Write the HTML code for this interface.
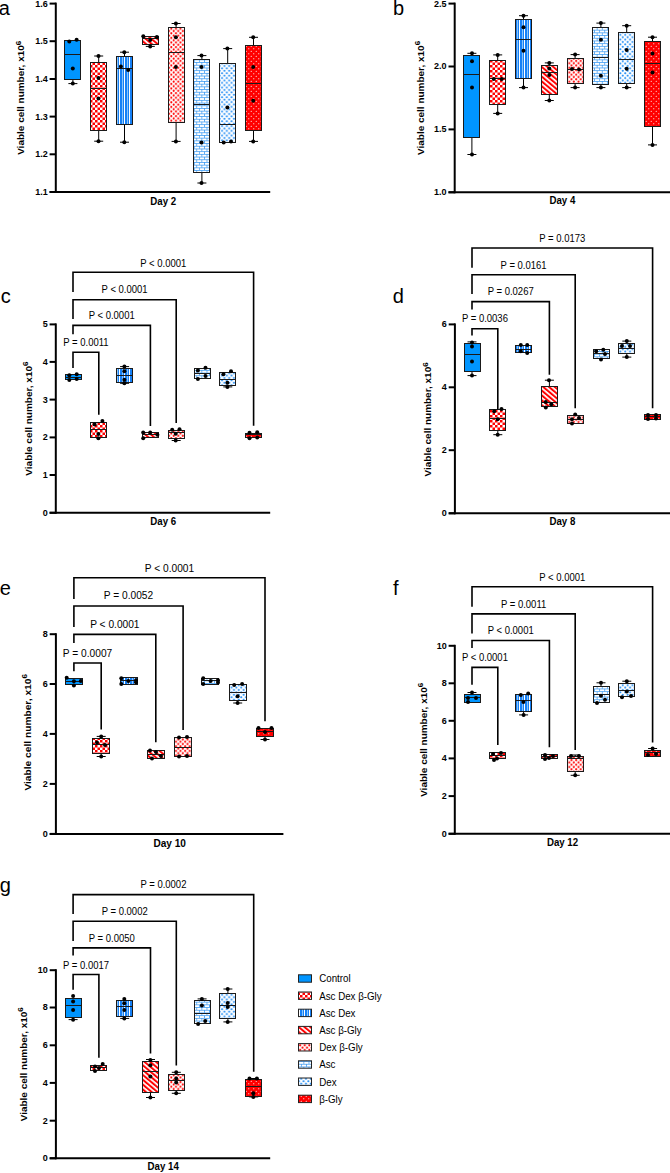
<!DOCTYPE html>
<html><head><meta charset="utf-8"><style>
html,body{margin:0;padding:0;background:#fff;}
svg{display:block;}
text{font-family:"Liberation Sans", sans-serif;fill:#000;}
</style></head><body>
<svg width="670" height="1173" viewBox="0 0 670 1173">
<rect width="670" height="1173" fill="#fff"/>

<defs>
<pattern id="p1" patternUnits="userSpaceOnUse" width="5" height="5">
  <rect width="5" height="5" fill="#fff"/>
  <rect x="0" y="0" width="2.5" height="2.5" fill="#ff0000"/>
  <rect x="2.5" y="2.5" width="2.5" height="2.5" fill="#ff0000"/>
</pattern>
<pattern id="p2" patternUnits="userSpaceOnUse" x="4" y="0" width="5" height="5">
  <rect width="5" height="5" fill="#1580f6"/>
  <rect x="0" y="0" width="1" height="5" fill="#ffffff"/>
  <rect x="3" y="0" width="1" height="5" fill="#8cc4fa"/>
</pattern>
<pattern id="p3" patternUnits="userSpaceOnUse" width="3.7" height="3.7" patternTransform="rotate(-50)">
  <rect width="3.7" height="3.7" fill="#fff"/>
  <rect x="0" y="0" width="2.0" height="3.7" fill="#ff0000"/>
</pattern>
<pattern id="p4" patternUnits="userSpaceOnUse" width="4.6" height="4.6">
  <rect width="4.6" height="4.6" fill="#fff"/>
  <circle cx="1.15" cy="1.15" r="1.05" fill="#ff0000"/>
  <circle cx="3.45" cy="3.45" r="1.05" fill="#ff0000"/>
</pattern>
<pattern id="p5" patternUnits="userSpaceOnUse" width="5.1" height="5.4">
  <rect width="5.1" height="5.4" fill="#fff"/>
  <rect x="0" y="0" width="5.1" height="0.75" fill="#3c9af2"/>
  <rect x="0" y="2.7" width="5.1" height="0.75" fill="#3c9af2"/>
  <rect x="0" y="0" width="0.75" height="2.7" fill="#3c9af2"/>
  <rect x="2.55" y="2.7" width="0.75" height="2.7" fill="#3c9af2"/>
</pattern>
<pattern id="p6" patternUnits="userSpaceOnUse" width="4.8" height="4.8">
  <rect width="4.8" height="4.8" fill="#fff"/>
  <circle cx="1.2" cy="1.2" r="1.05" fill="#1a8af5"/>
  <circle cx="3.6" cy="3.6" r="1.05" fill="#1a8af5"/>
</pattern>
<pattern id="p7" patternUnits="userSpaceOnUse" width="5" height="5">
  <rect width="5" height="5" fill="#ff0000"/>
  <circle cx="1.25" cy="1.25" r="0.62" fill="#fff"/>
  <circle cx="3.75" cy="3.75" r="0.62" fill="#fff"/>
</pattern>
</defs>

<line x1="55.8" y1="2.6" x2="55.8" y2="193.0" stroke="#000" stroke-width="2.0"/>
<line x1="49.599999999999994" y1="192.0" x2="270.2" y2="192.0" stroke="#000" stroke-width="2.0"/>
<line x1="49.599999999999994" y1="3.6" x2="55.8" y2="3.6" stroke="#000" stroke-width="2.0"/>
<text x="47.70" y="6.50" font-size="9.0" font-weight="bold" text-anchor="end" >1.6</text>
<line x1="49.599999999999994" y1="41.2" x2="55.8" y2="41.2" stroke="#000" stroke-width="2.0"/>
<text x="47.70" y="44.10" font-size="9.0" font-weight="bold" text-anchor="end" >1.5</text>
<line x1="49.599999999999994" y1="79.0" x2="55.8" y2="79.0" stroke="#000" stroke-width="2.0"/>
<text x="47.70" y="81.90" font-size="9.0" font-weight="bold" text-anchor="end" >1.4</text>
<line x1="49.599999999999994" y1="116.6" x2="55.8" y2="116.6" stroke="#000" stroke-width="2.0"/>
<text x="47.70" y="119.50" font-size="9.0" font-weight="bold" text-anchor="end" >1.3</text>
<line x1="49.599999999999994" y1="154.3" x2="55.8" y2="154.3" stroke="#000" stroke-width="2.0"/>
<text x="47.70" y="157.20" font-size="9.0" font-weight="bold" text-anchor="end" >1.2</text>
<line x1="49.599999999999994" y1="192.0" x2="55.8" y2="192.0" stroke="#000" stroke-width="2.0"/>
<text x="47.70" y="194.90" font-size="9.0" font-weight="bold" text-anchor="end" >1.1</text>
<text transform="translate(24.4,97.8) rotate(-90) scale(1.11,1)" font-size="9" font-weight="bold" text-anchor="middle">Viable cell number, x10<tspan font-size="7.2" dy="-3.7">6</tspan></text>
<text transform="translate(163.20,204.60) scale(1,1.1)" font-size="9.7" font-weight="bold" text-anchor="middle" >Day 2</text>
<text x="-1.15" y="14.80" font-size="20" font-weight="normal" text-anchor="start" >a</text>
<line x1="72.9" y1="79.4" x2="72.9" y2="83.6" stroke="#000" stroke-width="1.0"/>
<line x1="68.4" y1="83.6" x2="77.4" y2="83.6" stroke="#000" stroke-width="1.0"/>
<rect x="64.5" y="40.5" width="16.0" height="39.0" fill="#0095ff" stroke="#1a1a1a" stroke-width="1"/>
<line x1="64.5" y1="54.5" x2="80.5" y2="54.5" stroke="#1a1a1a" stroke-width="1.0"/>
<circle cx="69.3" cy="41.4" r="2.0" fill="#000"/>
<circle cx="76.6" cy="39.7" r="2.0" fill="#000"/>
<circle cx="72.8" cy="68.5" r="2.0" fill="#000"/>
<circle cx="72.8" cy="83.6" r="2.0" fill="#000"/>
<line x1="98.7" y1="56" x2="98.7" y2="62" stroke="#000" stroke-width="1.0"/>
<line x1="94.2" y1="56" x2="103.2" y2="56" stroke="#000" stroke-width="1.0"/>
<line x1="98.7" y1="130.3" x2="98.7" y2="141.2" stroke="#000" stroke-width="1.0"/>
<line x1="94.2" y1="141.2" x2="103.2" y2="141.2" stroke="#000" stroke-width="1.0"/>
<rect x="90.5" y="62.5" width="16.0" height="68.0" fill="url(#p1)" stroke="#1a1a1a" stroke-width="1"/>
<line x1="90.5" y1="88.5" x2="106.5" y2="88.5" stroke="#1a1a1a" stroke-width="1.0"/>
<circle cx="98.5" cy="56" r="2.0" fill="#000"/>
<circle cx="98.5" cy="77.9" r="2.0" fill="#000"/>
<circle cx="98.5" cy="98.5" r="2.0" fill="#000"/>
<circle cx="98.5" cy="141.2" r="2.0" fill="#000"/>
<line x1="124.5" y1="52.2" x2="124.5" y2="56.2" stroke="#000" stroke-width="1.0"/>
<line x1="120.0" y1="52.2" x2="129.0" y2="52.2" stroke="#000" stroke-width="1.0"/>
<line x1="124.5" y1="124" x2="124.5" y2="142.2" stroke="#000" stroke-width="1.0"/>
<line x1="120.0" y1="142.2" x2="129.0" y2="142.2" stroke="#000" stroke-width="1.0"/>
<rect x="116.5" y="56.5" width="16.0" height="68.0" fill="url(#p2)" stroke="#1a1a1a" stroke-width="1"/>
<line x1="116.5" y1="68.5" x2="132.5" y2="68.5" stroke="#1a1a1a" stroke-width="1.0"/>
<circle cx="124.3" cy="52.2" r="2.0" fill="#000"/>
<circle cx="120.9" cy="66.4" r="2.0" fill="#000"/>
<circle cx="128.2" cy="70" r="2.0" fill="#000"/>
<circle cx="124.3" cy="142.2" r="2.0" fill="#000"/>
<line x1="150.3" y1="44.0" x2="150.3" y2="46.4" stroke="#000" stroke-width="1.0"/>
<line x1="145.8" y1="46.4" x2="154.8" y2="46.4" stroke="#000" stroke-width="1.0"/>
<rect x="142.5" y="36.5" width="16.0" height="8.0" fill="url(#p3)" stroke="#1a1a1a" stroke-width="1"/>
<line x1="142.5" y1="38.5" x2="158.5" y2="38.5" stroke="#1a1a1a" stroke-width="1.0"/>
<circle cx="143.3" cy="36.3" r="2.0" fill="#000"/>
<circle cx="156.9" cy="37" r="2.0" fill="#000"/>
<circle cx="150.2" cy="40.1" r="2.0" fill="#000"/>
<circle cx="150.2" cy="46.4" r="2.0" fill="#000"/>
<line x1="176.10000000000002" y1="23.5" x2="176.10000000000002" y2="27.4" stroke="#000" stroke-width="1.0"/>
<line x1="171.60000000000002" y1="23.5" x2="180.60000000000002" y2="23.5" stroke="#000" stroke-width="1.0"/>
<line x1="176.10000000000002" y1="122.1" x2="176.10000000000002" y2="141.4" stroke="#000" stroke-width="1.0"/>
<line x1="171.60000000000002" y1="141.4" x2="180.60000000000002" y2="141.4" stroke="#000" stroke-width="1.0"/>
<rect x="168.5" y="27.5" width="16.0" height="95.0" fill="url(#p4)" stroke="#1a1a1a" stroke-width="1"/>
<line x1="168.5" y1="52.5" x2="184.5" y2="52.5" stroke="#1a1a1a" stroke-width="1.0"/>
<circle cx="175.9" cy="23.5" r="2.0" fill="#000"/>
<circle cx="175.9" cy="37.3" r="2.0" fill="#000"/>
<circle cx="175.9" cy="66.9" r="2.0" fill="#000"/>
<circle cx="175.9" cy="141.4" r="2.0" fill="#000"/>
<line x1="201.9" y1="55.6" x2="201.9" y2="59.3" stroke="#000" stroke-width="1.0"/>
<line x1="197.4" y1="55.6" x2="206.4" y2="55.6" stroke="#000" stroke-width="1.0"/>
<line x1="201.9" y1="172.8" x2="201.9" y2="183" stroke="#000" stroke-width="1.0"/>
<line x1="197.4" y1="183" x2="206.4" y2="183" stroke="#000" stroke-width="1.0"/>
<rect x="193.5" y="59.5" width="16.0" height="113.0" fill="url(#p5)" stroke="#1a1a1a" stroke-width="1"/>
<line x1="193.5" y1="104.5" x2="209.5" y2="104.5" stroke="#1a1a1a" stroke-width="1.0"/>
<circle cx="201.5" cy="55.6" r="2.0" fill="#000"/>
<circle cx="201.5" cy="66.9" r="2.0" fill="#000"/>
<circle cx="201.5" cy="142.5" r="2.0" fill="#000"/>
<circle cx="201.5" cy="183" r="2.0" fill="#000"/>
<line x1="227.70000000000002" y1="48.6" x2="227.70000000000002" y2="63.5" stroke="#000" stroke-width="1.0"/>
<line x1="223.20000000000002" y1="48.6" x2="232.20000000000002" y2="48.6" stroke="#000" stroke-width="1.0"/>
<rect x="219.5" y="63.5" width="16.0" height="79.0" fill="url(#p6)" stroke="#1a1a1a" stroke-width="1"/>
<line x1="219.5" y1="124.5" x2="235.5" y2="124.5" stroke="#1a1a1a" stroke-width="1.0"/>
<circle cx="227.4" cy="48.6" r="2.0" fill="#000"/>
<circle cx="227.4" cy="107.5" r="2.0" fill="#000"/>
<circle cx="223.7" cy="142.5" r="2.0" fill="#000"/>
<circle cx="231" cy="141.4" r="2.0" fill="#000"/>
<line x1="253.5" y1="37.3" x2="253.5" y2="45.2" stroke="#000" stroke-width="1.0"/>
<line x1="249.0" y1="37.3" x2="258.0" y2="37.3" stroke="#000" stroke-width="1.0"/>
<line x1="253.5" y1="131" x2="253.5" y2="141.4" stroke="#000" stroke-width="1.0"/>
<line x1="249.0" y1="141.4" x2="258.0" y2="141.4" stroke="#000" stroke-width="1.0"/>
<rect x="245.5" y="45.5" width="16.0" height="85.0" fill="url(#p7)" stroke="#1a1a1a" stroke-width="1"/>
<line x1="245.5" y1="83.5" x2="261.5" y2="83.5" stroke="#1a1a1a" stroke-width="1.0"/>
<circle cx="253.2" cy="37.3" r="2.0" fill="#000"/>
<circle cx="253.2" cy="66.9" r="2.0" fill="#000"/>
<circle cx="253.2" cy="100.7" r="2.0" fill="#000"/>
<circle cx="253.2" cy="141.4" r="2.0" fill="#000"/>
<line x1="454.7" y1="2.6" x2="454.7" y2="193.3" stroke="#000" stroke-width="2.0"/>
<line x1="448.5" y1="192.3" x2="670" y2="192.3" stroke="#000" stroke-width="2.0"/>
<line x1="448.5" y1="3.6" x2="454.7" y2="3.6" stroke="#000" stroke-width="2.0"/>
<text x="446.60" y="6.50" font-size="9.0" font-weight="bold" text-anchor="end" >2.5</text>
<line x1="448.5" y1="66.5" x2="454.7" y2="66.5" stroke="#000" stroke-width="2.0"/>
<text x="446.60" y="69.40" font-size="9.0" font-weight="bold" text-anchor="end" >2.0</text>
<line x1="448.5" y1="129.4" x2="454.7" y2="129.4" stroke="#000" stroke-width="2.0"/>
<text x="446.60" y="132.30" font-size="9.0" font-weight="bold" text-anchor="end" >1.5</text>
<line x1="448.5" y1="192.3" x2="454.7" y2="192.3" stroke="#000" stroke-width="2.0"/>
<text x="446.60" y="195.20" font-size="9.0" font-weight="bold" text-anchor="end" >1.0</text>
<text transform="translate(423.5,97.95) rotate(-90) scale(1.11,1)" font-size="9" font-weight="bold" text-anchor="middle">Viable cell number, x10<tspan font-size="7.2" dy="-3.7">6</tspan></text>
<text transform="translate(562.40,204.40) scale(1,1.1)" font-size="9.7" font-weight="bold" text-anchor="middle" >Day 4</text>
<text x="393.00" y="14.80" font-size="20" font-weight="normal" text-anchor="start" >b</text>
<line x1="471.9" y1="53.3" x2="471.9" y2="55.8" stroke="#000" stroke-width="1.0"/>
<line x1="467.4" y1="53.3" x2="476.4" y2="53.3" stroke="#000" stroke-width="1.0"/>
<line x1="471.9" y1="137.4" x2="471.9" y2="154.5" stroke="#000" stroke-width="1.0"/>
<line x1="467.4" y1="154.5" x2="476.4" y2="154.5" stroke="#000" stroke-width="1.0"/>
<rect x="463.5" y="55.5" width="16.0" height="82.0" fill="#0095ff" stroke="#1a1a1a" stroke-width="1"/>
<line x1="463.5" y1="74.5" x2="479.5" y2="74.5" stroke="#1a1a1a" stroke-width="1.0"/>
<circle cx="472" cy="53.3" r="2.0" fill="#000"/>
<circle cx="472" cy="61.3" r="2.0" fill="#000"/>
<circle cx="472" cy="87.6" r="2.0" fill="#000"/>
<circle cx="472" cy="154.5" r="2.0" fill="#000"/>
<line x1="497.7" y1="54.9" x2="497.7" y2="61" stroke="#000" stroke-width="1.0"/>
<line x1="493.2" y1="54.9" x2="502.2" y2="54.9" stroke="#000" stroke-width="1.0"/>
<line x1="497.7" y1="104.5" x2="497.7" y2="113.4" stroke="#000" stroke-width="1.0"/>
<line x1="493.2" y1="113.4" x2="502.2" y2="113.4" stroke="#000" stroke-width="1.0"/>
<rect x="489.5" y="60.5" width="16.0" height="44.0" fill="url(#p1)" stroke="#1a1a1a" stroke-width="1"/>
<line x1="489.5" y1="78.5" x2="505.5" y2="78.5" stroke="#1a1a1a" stroke-width="1.0"/>
<circle cx="497.7" cy="54.9" r="2.0" fill="#000"/>
<circle cx="493.8" cy="79" r="2.0" fill="#000"/>
<circle cx="501.7" cy="79" r="2.0" fill="#000"/>
<circle cx="497.7" cy="113.4" r="2.0" fill="#000"/>
<line x1="523.5" y1="15.7" x2="523.5" y2="19.3" stroke="#000" stroke-width="1.0"/>
<line x1="519.0" y1="15.7" x2="528.0" y2="15.7" stroke="#000" stroke-width="1.0"/>
<line x1="523.5" y1="78" x2="523.5" y2="87.6" stroke="#000" stroke-width="1.0"/>
<line x1="519.0" y1="87.6" x2="528.0" y2="87.6" stroke="#000" stroke-width="1.0"/>
<rect x="515.5" y="19.5" width="16.0" height="59.0" fill="url(#p2)" stroke="#1a1a1a" stroke-width="1"/>
<line x1="515.5" y1="39.5" x2="531.5" y2="39.5" stroke="#1a1a1a" stroke-width="1.0"/>
<circle cx="523.5" cy="15.7" r="2.0" fill="#000"/>
<circle cx="523.5" cy="27.3" r="2.0" fill="#000"/>
<circle cx="523.5" cy="50.7" r="2.0" fill="#000"/>
<circle cx="523.5" cy="87.6" r="2.0" fill="#000"/>
<line x1="549.3" y1="62.9" x2="549.3" y2="65.1" stroke="#000" stroke-width="1.0"/>
<line x1="544.8" y1="62.9" x2="553.8" y2="62.9" stroke="#000" stroke-width="1.0"/>
<line x1="549.3" y1="94.1" x2="549.3" y2="100.5" stroke="#000" stroke-width="1.0"/>
<line x1="544.8" y1="100.5" x2="553.8" y2="100.5" stroke="#000" stroke-width="1.0"/>
<rect x="541.5" y="65.5" width="16.0" height="29.0" fill="url(#p3)" stroke="#1a1a1a" stroke-width="1"/>
<line x1="541.5" y1="72.5" x2="557.5" y2="72.5" stroke="#1a1a1a" stroke-width="1.0"/>
<circle cx="549.3" cy="62.9" r="2.0" fill="#000"/>
<circle cx="549.3" cy="68.4" r="2.0" fill="#000"/>
<circle cx="549.3" cy="75.1" r="2.0" fill="#000"/>
<circle cx="549.3" cy="100.5" r="2.0" fill="#000"/>
<line x1="575.1" y1="54.6" x2="575.1" y2="58.4" stroke="#000" stroke-width="1.0"/>
<line x1="570.6" y1="54.6" x2="579.6" y2="54.6" stroke="#000" stroke-width="1.0"/>
<line x1="575.1" y1="83.4" x2="575.1" y2="87.6" stroke="#000" stroke-width="1.0"/>
<line x1="570.6" y1="87.6" x2="579.6" y2="87.6" stroke="#000" stroke-width="1.0"/>
<rect x="567.5" y="58.5" width="16.0" height="25.0" fill="url(#p4)" stroke="#1a1a1a" stroke-width="1"/>
<line x1="567.5" y1="69.5" x2="583.5" y2="69.5" stroke="#1a1a1a" stroke-width="1.0"/>
<circle cx="575.1" cy="54.6" r="2.0" fill="#000"/>
<circle cx="572" cy="69" r="2.0" fill="#000"/>
<circle cx="579" cy="69.5" r="2.0" fill="#000"/>
<circle cx="575.1" cy="87.6" r="2.0" fill="#000"/>
<line x1="600.9" y1="23.1" x2="600.9" y2="27.6" stroke="#000" stroke-width="1.0"/>
<line x1="596.4" y1="23.1" x2="605.4" y2="23.1" stroke="#000" stroke-width="1.0"/>
<line x1="600.9" y1="84.4" x2="600.9" y2="87.6" stroke="#000" stroke-width="1.0"/>
<line x1="596.4" y1="87.6" x2="605.4" y2="87.6" stroke="#000" stroke-width="1.0"/>
<rect x="592.5" y="27.5" width="16.0" height="57.0" fill="url(#p5)" stroke="#1a1a1a" stroke-width="1"/>
<line x1="592.5" y1="57.5" x2="608.5" y2="57.5" stroke="#1a1a1a" stroke-width="1.0"/>
<circle cx="600.9" cy="23.1" r="2.0" fill="#000"/>
<circle cx="600.9" cy="39.8" r="2.0" fill="#000"/>
<circle cx="600.9" cy="75.7" r="2.0" fill="#000"/>
<circle cx="600.9" cy="87.6" r="2.0" fill="#000"/>
<line x1="626.7" y1="25.7" x2="626.7" y2="32.1" stroke="#000" stroke-width="1.0"/>
<line x1="622.2" y1="25.7" x2="631.2" y2="25.7" stroke="#000" stroke-width="1.0"/>
<line x1="626.7" y1="83.4" x2="626.7" y2="87.6" stroke="#000" stroke-width="1.0"/>
<line x1="622.2" y1="87.6" x2="631.2" y2="87.6" stroke="#000" stroke-width="1.0"/>
<rect x="618.5" y="32.5" width="16.0" height="51.0" fill="url(#p6)" stroke="#1a1a1a" stroke-width="1"/>
<line x1="618.5" y1="59.5" x2="634.5" y2="59.5" stroke="#1a1a1a" stroke-width="1.0"/>
<circle cx="626.7" cy="25.7" r="2.0" fill="#000"/>
<circle cx="626.7" cy="50" r="2.0" fill="#000"/>
<circle cx="626.7" cy="68.7" r="2.0" fill="#000"/>
<circle cx="626.7" cy="87.6" r="2.0" fill="#000"/>
<line x1="652.5" y1="37.2" x2="652.5" y2="41.4" stroke="#000" stroke-width="1.0"/>
<line x1="648.0" y1="37.2" x2="657.0" y2="37.2" stroke="#000" stroke-width="1.0"/>
<line x1="652.5" y1="126.3" x2="652.5" y2="144.9" stroke="#000" stroke-width="1.0"/>
<line x1="648.0" y1="144.9" x2="657.0" y2="144.9" stroke="#000" stroke-width="1.0"/>
<rect x="644.5" y="41.5" width="16.0" height="85.0" fill="url(#p7)" stroke="#1a1a1a" stroke-width="1"/>
<line x1="644.5" y1="63.5" x2="660.5" y2="63.5" stroke="#1a1a1a" stroke-width="1.0"/>
<circle cx="652.5" cy="37.2" r="2.0" fill="#000"/>
<circle cx="652.5" cy="53.6" r="2.0" fill="#000"/>
<circle cx="652.5" cy="72.5" r="2.0" fill="#000"/>
<circle cx="652.5" cy="144.9" r="2.0" fill="#000"/>
<line x1="55.8" y1="323.4" x2="55.8" y2="513.8" stroke="#000" stroke-width="2.0"/>
<line x1="49.599999999999994" y1="512.8" x2="270.2" y2="512.8" stroke="#000" stroke-width="2.0"/>
<line x1="49.599999999999994" y1="324.4" x2="55.8" y2="324.4" stroke="#000" stroke-width="2.0"/>
<text x="47.70" y="327.30" font-size="9.0" font-weight="bold" text-anchor="end" >5</text>
<line x1="49.599999999999994" y1="361.9" x2="55.8" y2="361.9" stroke="#000" stroke-width="2.0"/>
<text x="47.70" y="364.80" font-size="9.0" font-weight="bold" text-anchor="end" >4</text>
<line x1="49.599999999999994" y1="399.6" x2="55.8" y2="399.6" stroke="#000" stroke-width="2.0"/>
<text x="47.70" y="402.50" font-size="9.0" font-weight="bold" text-anchor="end" >3</text>
<line x1="49.599999999999994" y1="437.4" x2="55.8" y2="437.4" stroke="#000" stroke-width="2.0"/>
<text x="47.70" y="440.30" font-size="9.0" font-weight="bold" text-anchor="end" >2</text>
<line x1="49.599999999999994" y1="475.0" x2="55.8" y2="475.0" stroke="#000" stroke-width="2.0"/>
<text x="47.70" y="477.90" font-size="9.0" font-weight="bold" text-anchor="end" >1</text>
<line x1="49.599999999999994" y1="512.8" x2="55.8" y2="512.8" stroke="#000" stroke-width="2.0"/>
<text x="47.70" y="515.70" font-size="9.0" font-weight="bold" text-anchor="end" >0</text>
<text transform="translate(32.1,418.59999999999997) rotate(-90) scale(1.11,1)" font-size="9" font-weight="bold" text-anchor="middle">Viable cell number, x10<tspan font-size="7.2" dy="-3.7">6</tspan></text>
<text transform="translate(163.30,524.60) scale(1,1.1)" font-size="9.7" font-weight="bold" text-anchor="middle" >Day 6</text>
<text x="0.70" y="302.90" font-size="20" font-weight="normal" text-anchor="start" >c</text>
<rect x="65.5" y="374.5" width="16.0" height="5.0" fill="#0095ff" stroke="#1a1a1a" stroke-width="1"/>
<line x1="65.5" y1="377.5" x2="81.5" y2="377.5" stroke="#1a1a1a" stroke-width="1.0"/>
<circle cx="69.3" cy="375.3" r="2.0" fill="#000"/>
<circle cx="69.3" cy="380" r="2.0" fill="#000"/>
<circle cx="76.7" cy="374.3" r="2.0" fill="#000"/>
<circle cx="76.7" cy="378.9" r="2.0" fill="#000"/>
<rect x="90.5" y="422.5" width="16.0" height="15.0" fill="url(#p1)" stroke="#1a1a1a" stroke-width="1"/>
<line x1="90.5" y1="429.5" x2="106.5" y2="429.5" stroke="#1a1a1a" stroke-width="1.0"/>
<circle cx="94.6" cy="424.5" r="2.0" fill="#000"/>
<circle cx="102.4" cy="420.9" r="2.0" fill="#000"/>
<circle cx="98.4" cy="434" r="2.0" fill="#000"/>
<circle cx="98.4" cy="438.2" r="2.0" fill="#000"/>
<line x1="124.6" y1="366.6" x2="124.6" y2="368.1" stroke="#000" stroke-width="1.0"/>
<line x1="120.1" y1="366.6" x2="129.1" y2="366.6" stroke="#000" stroke-width="1.0"/>
<line x1="124.6" y1="382.4" x2="124.6" y2="383.3" stroke="#000" stroke-width="1.0"/>
<line x1="120.1" y1="383.3" x2="129.1" y2="383.3" stroke="#000" stroke-width="1.0"/>
<rect x="116.5" y="368.5" width="16.0" height="14.0" fill="url(#p2)" stroke="#1a1a1a" stroke-width="1"/>
<line x1="116.5" y1="375.5" x2="132.5" y2="375.5" stroke="#1a1a1a" stroke-width="1.0"/>
<circle cx="124.4" cy="366.6" r="2.0" fill="#000"/>
<circle cx="124.4" cy="371.3" r="2.0" fill="#000"/>
<circle cx="124.4" cy="379.7" r="2.0" fill="#000"/>
<circle cx="124.4" cy="383.3" r="2.0" fill="#000"/>
<rect x="142.5" y="432.5" width="16.0" height="5.0" fill="url(#p3)" stroke="#1a1a1a" stroke-width="1"/>
<line x1="142.5" y1="434.5" x2="158.5" y2="434.5" stroke="#1a1a1a" stroke-width="1.0"/>
<circle cx="143.2" cy="432.5" r="2.0" fill="#000"/>
<circle cx="143.2" cy="438.3" r="2.0" fill="#000"/>
<circle cx="150.2" cy="432.5" r="2.0" fill="#000"/>
<circle cx="157.4" cy="434.7" r="2.0" fill="#000"/>
<line x1="176.2" y1="438.7" x2="176.2" y2="440.5" stroke="#000" stroke-width="1.0"/>
<line x1="171.7" y1="440.5" x2="180.7" y2="440.5" stroke="#000" stroke-width="1.0"/>
<rect x="168.5" y="430.5" width="16.0" height="8.0" fill="url(#p4)" stroke="#1a1a1a" stroke-width="1"/>
<line x1="168.5" y1="432.5" x2="184.5" y2="432.5" stroke="#1a1a1a" stroke-width="1.0"/>
<circle cx="172.2" cy="429.8" r="2.0" fill="#000"/>
<circle cx="179.5" cy="429.3" r="2.0" fill="#000"/>
<circle cx="175.7" cy="433.8" r="2.0" fill="#000"/>
<circle cx="175.7" cy="440.5" r="2.0" fill="#000"/>
<rect x="194.5" y="368.5" width="16.0" height="10.0" fill="url(#p5)" stroke="#1a1a1a" stroke-width="1"/>
<line x1="194.5" y1="373.5" x2="210.5" y2="373.5" stroke="#1a1a1a" stroke-width="1.0"/>
<circle cx="197.9" cy="370.5" r="2.0" fill="#000"/>
<circle cx="205.5" cy="367.8" r="2.0" fill="#000"/>
<circle cx="205.5" cy="376.1" r="2.0" fill="#000"/>
<circle cx="197.9" cy="379.1" r="2.0" fill="#000"/>
<line x1="227.8" y1="385.1" x2="227.8" y2="386.9" stroke="#000" stroke-width="1.0"/>
<line x1="223.3" y1="386.9" x2="232.3" y2="386.9" stroke="#000" stroke-width="1.0"/>
<rect x="219.5" y="372.5" width="16.0" height="13.0" fill="url(#p6)" stroke="#1a1a1a" stroke-width="1"/>
<line x1="219.5" y1="379.5" x2="235.5" y2="379.5" stroke="#1a1a1a" stroke-width="1.0"/>
<circle cx="223.4" cy="374.3" r="2.0" fill="#000"/>
<circle cx="231" cy="371.3" r="2.0" fill="#000"/>
<circle cx="227.4" cy="382.7" r="2.0" fill="#000"/>
<circle cx="227.4" cy="386.9" r="2.0" fill="#000"/>
<rect x="245.5" y="433.5" width="16.0" height="4.0" fill="url(#p7)" stroke="#1a1a1a" stroke-width="1"/>
<line x1="245.5" y1="434.5" x2="261.5" y2="434.5" stroke="#1a1a1a" stroke-width="1.0"/>
<circle cx="249.5" cy="432.8" r="2.0" fill="#000"/>
<circle cx="249.5" cy="438.2" r="2.0" fill="#000"/>
<circle cx="257.2" cy="432.2" r="2.0" fill="#000"/>
<circle cx="257.2" cy="437.4" r="2.0" fill="#000"/>
<polyline points="73.0,368.0 73.0,352.3 98.8,352.3 98.8,414.8" fill="none" stroke="#000" stroke-width="1.6"/>
<text transform="translate(85.90,346.40) scale(1,1.12)" font-size="9.5" font-weight="normal" text-anchor="middle" >P = 0.0011</text>
<polyline points="73.0,334.2 73.0,325.4 150.4,325.4 150.4,426.0" fill="none" stroke="#000" stroke-width="1.6"/>
<text transform="translate(111.70,319.30) scale(1,1.12)" font-size="9.5" font-weight="normal" text-anchor="middle" >P &lt; 0.0001</text>
<polyline points="73.0,319.0 73.0,299.7 176.2,299.7 176.2,422.90000000000003" fill="none" stroke="#000" stroke-width="1.6"/>
<text transform="translate(124.60,293.10) scale(1,1.12)" font-size="9.5" font-weight="normal" text-anchor="middle" >P &lt; 0.0001</text>
<polyline points="73.0,291.9 73.0,272.3 253.6,272.3 253.6,425.7" fill="none" stroke="#000" stroke-width="1.6"/>
<text transform="translate(163.30,266.50) scale(1,1.12)" font-size="9.5" font-weight="normal" text-anchor="middle" >P &lt; 0.0001</text>
<line x1="454.9" y1="323.4" x2="454.9" y2="514.3" stroke="#000" stroke-width="2.0"/>
<line x1="448.7" y1="513.3" x2="670" y2="513.3" stroke="#000" stroke-width="2.0"/>
<line x1="448.7" y1="324.4" x2="454.9" y2="324.4" stroke="#000" stroke-width="2.0"/>
<text x="446.80" y="327.30" font-size="9.0" font-weight="bold" text-anchor="end" >6</text>
<line x1="448.7" y1="387.3" x2="454.9" y2="387.3" stroke="#000" stroke-width="2.0"/>
<text x="446.80" y="390.20" font-size="9.0" font-weight="bold" text-anchor="end" >4</text>
<line x1="448.7" y1="450.2" x2="454.9" y2="450.2" stroke="#000" stroke-width="2.0"/>
<text x="446.80" y="453.10" font-size="9.0" font-weight="bold" text-anchor="end" >2</text>
<line x1="448.7" y1="513.3" x2="454.9" y2="513.3" stroke="#000" stroke-width="2.0"/>
<text x="446.80" y="516.20" font-size="9.0" font-weight="bold" text-anchor="end" >0</text>
<text transform="translate(431.3,419.4) rotate(-90) scale(1.11,1)" font-size="9" font-weight="bold" text-anchor="middle">Viable cell number, x10<tspan font-size="7.2" dy="-3.7">6</tspan></text>
<text transform="translate(562.40,525.30) scale(1,1.1)" font-size="9.7" font-weight="bold" text-anchor="middle" >Day 8</text>
<text x="392.80" y="302.90" font-size="20" font-weight="normal" text-anchor="start" >d</text>
<line x1="472.0" y1="341.9" x2="472.0" y2="343.9" stroke="#000" stroke-width="1.0"/>
<line x1="467.5" y1="341.9" x2="476.5" y2="341.9" stroke="#000" stroke-width="1.0"/>
<line x1="472.0" y1="371.8" x2="472.0" y2="375.6" stroke="#000" stroke-width="1.0"/>
<line x1="467.5" y1="375.6" x2="476.5" y2="375.6" stroke="#000" stroke-width="1.0"/>
<rect x="464.5" y="343.5" width="16.0" height="28.0" fill="#0095ff" stroke="#1a1a1a" stroke-width="1"/>
<line x1="464.5" y1="354.5" x2="480.5" y2="354.5" stroke="#1a1a1a" stroke-width="1.0"/>
<circle cx="472" cy="342.6" r="2.0" fill="#000"/>
<circle cx="472" cy="346.4" r="2.0" fill="#000"/>
<circle cx="472" cy="361.6" r="2.0" fill="#000"/>
<circle cx="472" cy="375.6" r="2.0" fill="#000"/>
<line x1="497.8" y1="430.8" x2="497.8" y2="434.7" stroke="#000" stroke-width="1.0"/>
<line x1="493.3" y1="434.7" x2="502.3" y2="434.7" stroke="#000" stroke-width="1.0"/>
<rect x="489.5" y="409.5" width="16.0" height="21.0" fill="url(#p1)" stroke="#1a1a1a" stroke-width="1"/>
<line x1="489.5" y1="418.5" x2="505.5" y2="418.5" stroke="#1a1a1a" stroke-width="1.0"/>
<circle cx="494.2" cy="411.2" r="2.0" fill="#000"/>
<circle cx="501.5" cy="409" r="2.0" fill="#000"/>
<circle cx="497.7" cy="419.3" r="2.0" fill="#000"/>
<circle cx="497.7" cy="434.7" r="2.0" fill="#000"/>
<rect x="515.5" y="345.5" width="16.0" height="7.0" fill="url(#p2)" stroke="#1a1a1a" stroke-width="1"/>
<line x1="515.5" y1="349.5" x2="531.5" y2="349.5" stroke="#1a1a1a" stroke-width="1.0"/>
<circle cx="520.8" cy="344.9" r="2.0" fill="#000"/>
<circle cx="527.2" cy="344.9" r="2.0" fill="#000"/>
<circle cx="520.8" cy="351.3" r="2.0" fill="#000"/>
<circle cx="527.2" cy="353" r="2.0" fill="#000"/>
<line x1="549.4" y1="380.2" x2="549.4" y2="386" stroke="#000" stroke-width="1.0"/>
<line x1="544.9" y1="380.2" x2="553.9" y2="380.2" stroke="#000" stroke-width="1.0"/>
<rect x="541.5" y="386.5" width="16.0" height="20.0" fill="url(#p3)" stroke="#1a1a1a" stroke-width="1"/>
<line x1="541.5" y1="402.5" x2="557.5" y2="402.5" stroke="#1a1a1a" stroke-width="1.0"/>
<circle cx="549" cy="380.2" r="2.0" fill="#000"/>
<circle cx="545.8" cy="402" r="2.0" fill="#000"/>
<circle cx="551.3" cy="404.3" r="2.0" fill="#000"/>
<circle cx="545.8" cy="407.5" r="2.0" fill="#000"/>
<rect x="567.5" y="415.5" width="16.0" height="8.0" fill="url(#p4)" stroke="#1a1a1a" stroke-width="1"/>
<line x1="567.5" y1="419.5" x2="583.5" y2="419.5" stroke="#1a1a1a" stroke-width="1.0"/>
<circle cx="575.2" cy="414.4" r="2.0" fill="#000"/>
<circle cx="572" cy="419.3" r="2.0" fill="#000"/>
<circle cx="579" cy="418" r="2.0" fill="#000"/>
<circle cx="572" cy="423.4" r="2.0" fill="#000"/>
<rect x="593.5" y="349.5" width="16.0" height="9.0" fill="url(#p5)" stroke="#1a1a1a" stroke-width="1"/>
<line x1="593.5" y1="353.5" x2="609.5" y2="353.5" stroke="#1a1a1a" stroke-width="1.0"/>
<circle cx="596.2" cy="351.3" r="2.0" fill="#000"/>
<circle cx="603.3" cy="349.7" r="2.0" fill="#000"/>
<circle cx="601" cy="359.4" r="2.0" fill="#000"/>
<circle cx="605" cy="354" r="2.0" fill="#000"/>
<line x1="626.8" y1="341.1" x2="626.8" y2="343.3" stroke="#000" stroke-width="1.0"/>
<line x1="622.3" y1="341.1" x2="631.3" y2="341.1" stroke="#000" stroke-width="1.0"/>
<line x1="626.8" y1="353.9" x2="626.8" y2="357.1" stroke="#000" stroke-width="1.0"/>
<line x1="622.3" y1="357.1" x2="631.3" y2="357.1" stroke="#000" stroke-width="1.0"/>
<rect x="618.5" y="343.5" width="16.0" height="10.0" fill="url(#p6)" stroke="#1a1a1a" stroke-width="1"/>
<line x1="618.5" y1="348.5" x2="634.5" y2="348.5" stroke="#1a1a1a" stroke-width="1.0"/>
<circle cx="626.8" cy="341.1" r="2.0" fill="#000"/>
<circle cx="622" cy="346" r="2.0" fill="#000"/>
<circle cx="630" cy="346" r="2.0" fill="#000"/>
<circle cx="626.8" cy="357.1" r="2.0" fill="#000"/>
<rect x="644.5" y="414.5" width="16.0" height="5.0" fill="url(#p7)" stroke="#1a1a1a" stroke-width="1"/>
<line x1="644.5" y1="416.5" x2="660.5" y2="416.5" stroke="#1a1a1a" stroke-width="1.0"/>
<circle cx="648" cy="415" r="2.0" fill="#000"/>
<circle cx="656" cy="415" r="2.0" fill="#000"/>
<circle cx="648" cy="419" r="2.0" fill="#000"/>
<circle cx="656" cy="418.5" r="2.0" fill="#000"/>
<polyline points="472.0,335.5 472.0,328.7 497.8,328.7 497.8,409.40000000000003" fill="none" stroke="#000" stroke-width="1.6"/>
<text transform="translate(484.90,321.80) scale(1,1.12)" font-size="9.5" font-weight="normal" text-anchor="middle" >P = 0.0036</text>
<polyline points="472.0,309.4 472.0,301.6 549.4,301.6 549.4,374.8" fill="none" stroke="#000" stroke-width="1.6"/>
<text transform="translate(510.70,295.20) scale(1,1.12)" font-size="9.5" font-weight="normal" text-anchor="middle" >P = 0.0267</text>
<polyline points="472.0,294.1 472.0,274.7 575.2,274.7 575.2,408.3" fill="none" stroke="#000" stroke-width="1.6"/>
<text transform="translate(523.60,268.50) scale(1,1.12)" font-size="9.5" font-weight="normal" text-anchor="middle" >P = 0.0161</text>
<polyline points="472.0,267.8 472.0,248 652.6,248 652.6,408.3" fill="none" stroke="#000" stroke-width="1.6"/>
<text transform="translate(562.30,242.20) scale(1,1.12)" font-size="9.5" font-weight="normal" text-anchor="middle" >P = 0.0173</text>
<line x1="55.9" y1="633.2" x2="55.9" y2="834.9" stroke="#000" stroke-width="2.0"/>
<line x1="49.699999999999996" y1="833.9" x2="283.4" y2="833.9" stroke="#000" stroke-width="2.0"/>
<line x1="49.699999999999996" y1="634.2" x2="55.9" y2="634.2" stroke="#000" stroke-width="2.0"/>
<text x="47.80" y="637.10" font-size="9.0" font-weight="bold" text-anchor="end" >8</text>
<line x1="49.699999999999996" y1="684.0" x2="55.9" y2="684.0" stroke="#000" stroke-width="2.0"/>
<text x="47.80" y="686.90" font-size="9.0" font-weight="bold" text-anchor="end" >6</text>
<line x1="49.699999999999996" y1="733.9" x2="55.9" y2="733.9" stroke="#000" stroke-width="2.0"/>
<text x="47.80" y="736.80" font-size="9.0" font-weight="bold" text-anchor="end" >4</text>
<line x1="49.699999999999996" y1="783.9" x2="55.9" y2="783.9" stroke="#000" stroke-width="2.0"/>
<text x="47.80" y="786.80" font-size="9.0" font-weight="bold" text-anchor="end" >2</text>
<line x1="49.699999999999996" y1="833.9" x2="55.9" y2="833.9" stroke="#000" stroke-width="2.0"/>
<text x="47.80" y="836.80" font-size="9.0" font-weight="bold" text-anchor="end" >0</text>
<text transform="translate(30.7,732.3) rotate(-90) scale(1.135,1)" font-size="9" font-weight="bold" text-anchor="middle">Viable cell number, x10<tspan font-size="7.2" dy="-3.7">6</tspan></text>
<text transform="translate(169.70,847.00) scale(1,1.1)" font-size="10.1" font-weight="bold" text-anchor="middle" >Day 10</text>
<text x="-0.15" y="594.90" font-size="20" font-weight="normal" text-anchor="start" >e</text>
<rect x="65.5" y="678.5" width="17.0" height="6.0" fill="#0095ff" stroke="#1a1a1a" stroke-width="1"/>
<line x1="65.5" y1="681.5" x2="82.5" y2="681.5" stroke="#1a1a1a" stroke-width="1.0"/>
<circle cx="66.7" cy="677.8" r="2.0" fill="#000"/>
<circle cx="73.9" cy="681.2" r="2.0" fill="#000"/>
<circle cx="73.9" cy="685.5" r="2.0" fill="#000"/>
<circle cx="80.8" cy="681" r="2.0" fill="#000"/>
<line x1="101.2" y1="736.4" x2="101.2" y2="738.2" stroke="#000" stroke-width="1.0"/>
<line x1="96.7" y1="736.4" x2="105.7" y2="736.4" stroke="#000" stroke-width="1.0"/>
<line x1="101.2" y1="753.4" x2="101.2" y2="756.5" stroke="#000" stroke-width="1.0"/>
<line x1="96.7" y1="756.5" x2="105.7" y2="756.5" stroke="#000" stroke-width="1.0"/>
<rect x="92.5" y="738.5" width="17.0" height="15.0" fill="url(#p1)" stroke="#1a1a1a" stroke-width="1"/>
<line x1="92.5" y1="744.5" x2="109.5" y2="744.5" stroke="#1a1a1a" stroke-width="1.0"/>
<circle cx="101.2" cy="736.4" r="2.0" fill="#000"/>
<circle cx="97" cy="742.5" r="2.0" fill="#000"/>
<circle cx="105" cy="745" r="2.0" fill="#000"/>
<circle cx="101.2" cy="756.5" r="2.0" fill="#000"/>
<rect x="120.5" y="677.5" width="17.0" height="7.0" fill="url(#p2)" stroke="#1a1a1a" stroke-width="1"/>
<line x1="120.5" y1="680.5" x2="137.5" y2="680.5" stroke="#1a1a1a" stroke-width="1.0"/>
<circle cx="121.3" cy="678.3" r="2.0" fill="#000"/>
<circle cx="121.3" cy="684" r="2.0" fill="#000"/>
<circle cx="128.4" cy="681" r="2.0" fill="#000"/>
<circle cx="136.0" cy="680.2" r="2.0" fill="#000"/>
<circle cx="136.0" cy="682.2" r="2.0" fill="#000"/>
<rect x="147.5" y="750.5" width="17.0" height="8.0" fill="url(#p3)" stroke="#1a1a1a" stroke-width="1"/>
<line x1="147.5" y1="754.5" x2="164.5" y2="754.5" stroke="#1a1a1a" stroke-width="1.0"/>
<circle cx="150" cy="750.6" r="2.0" fill="#000"/>
<circle cx="156" cy="752" r="2.0" fill="#000"/>
<circle cx="152" cy="758.5" r="2.0" fill="#000"/>
<circle cx="161" cy="756" r="2.0" fill="#000"/>
<rect x="174.5" y="737.5" width="17.0" height="19.0" fill="url(#p4)" stroke="#1a1a1a" stroke-width="1"/>
<line x1="174.5" y1="747.5" x2="191.5" y2="747.5" stroke="#1a1a1a" stroke-width="1.0"/>
<circle cx="179" cy="737.5" r="2.0" fill="#000"/>
<circle cx="187" cy="737" r="2.0" fill="#000"/>
<circle cx="179" cy="756.5" r="2.0" fill="#000"/>
<circle cx="187" cy="756" r="2.0" fill="#000"/>
<rect x="201.5" y="678.5" width="17.0" height="6.0" fill="url(#p5)" stroke="#1a1a1a" stroke-width="1"/>
<line x1="201.5" y1="680.5" x2="218.5" y2="680.5" stroke="#1a1a1a" stroke-width="1.0"/>
<circle cx="203.2" cy="678.3" r="2.0" fill="#000"/>
<circle cx="203.2" cy="684" r="2.0" fill="#000"/>
<circle cx="210.6" cy="681" r="2.0" fill="#000"/>
<circle cx="218.0" cy="680.2" r="2.0" fill="#000"/>
<circle cx="218.0" cy="682.4" r="2.0" fill="#000"/>
<line x1="237.70000000000002" y1="700.8" x2="237.70000000000002" y2="703" stroke="#000" stroke-width="1.0"/>
<line x1="233.20000000000002" y1="703" x2="242.20000000000002" y2="703" stroke="#000" stroke-width="1.0"/>
<rect x="229.5" y="684.5" width="17.0" height="16.0" fill="url(#p6)" stroke="#1a1a1a" stroke-width="1"/>
<line x1="229.5" y1="692.5" x2="246.5" y2="692.5" stroke="#1a1a1a" stroke-width="1.0"/>
<circle cx="234.2" cy="685.1" r="2.0" fill="#000"/>
<circle cx="242.1" cy="684" r="2.0" fill="#000"/>
<circle cx="237.6" cy="696.3" r="2.0" fill="#000"/>
<circle cx="237.6" cy="703" r="2.0" fill="#000"/>
<line x1="265.0" y1="736.9" x2="265.0" y2="739.5" stroke="#000" stroke-width="1.0"/>
<line x1="260.5" y1="739.5" x2="269.5" y2="739.5" stroke="#000" stroke-width="1.0"/>
<rect x="256.5" y="728.5" width="17.0" height="8.0" fill="url(#p7)" stroke="#1a1a1a" stroke-width="1"/>
<line x1="256.5" y1="731.5" x2="273.5" y2="731.5" stroke="#1a1a1a" stroke-width="1.0"/>
<circle cx="258.5" cy="728" r="2.0" fill="#000"/>
<circle cx="271.5" cy="728" r="2.0" fill="#000"/>
<circle cx="265" cy="732" r="2.0" fill="#000"/>
<circle cx="265" cy="739.5" r="2.0" fill="#000"/>
<polyline points="73.9,671.2 73.9,663.0 101.2,663.0 101.2,729.5999999999999" fill="none" stroke="#000" stroke-width="1.6"/>
<text transform="translate(87.55,656.50) scale(1,1.12)" font-size="10.2" font-weight="normal" text-anchor="middle" >P = 0.0007</text>
<polyline points="73.9,643.0 73.9,634.4 155.8,634.4 155.8,742.3" fill="none" stroke="#000" stroke-width="1.6"/>
<text transform="translate(114.85,628.10) scale(1,1.12)" font-size="10.2" font-weight="normal" text-anchor="middle" >P &lt; 0.0001</text>
<polyline points="73.9,627.1 73.9,606.0 183.10000000000002,606.0 183.10000000000002,730.0999999999999" fill="none" stroke="#000" stroke-width="1.6"/>
<text transform="translate(128.50,599.40) scale(1,1.12)" font-size="10.2" font-weight="normal" text-anchor="middle" >P = 0.0052</text>
<polyline points="73.9,599.1 73.9,577.8 265.0,577.8 265.0,721.3" fill="none" stroke="#000" stroke-width="1.6"/>
<text transform="translate(169.45,571.50) scale(1,1.12)" font-size="10.2" font-weight="normal" text-anchor="middle" >P &lt; 0.0001</text>
<line x1="454.8" y1="644.8" x2="454.8" y2="834.8" stroke="#000" stroke-width="2.0"/>
<line x1="448.6" y1="833.8" x2="670" y2="833.8" stroke="#000" stroke-width="2.0"/>
<line x1="448.6" y1="645.8" x2="454.8" y2="645.8" stroke="#000" stroke-width="2.0"/>
<text x="446.70" y="648.70" font-size="9.0" font-weight="bold" text-anchor="end" >10</text>
<line x1="448.6" y1="683.3" x2="454.8" y2="683.3" stroke="#000" stroke-width="2.0"/>
<text x="446.70" y="686.20" font-size="9.0" font-weight="bold" text-anchor="end" >8</text>
<line x1="448.6" y1="720.8" x2="454.8" y2="720.8" stroke="#000" stroke-width="2.0"/>
<text x="446.70" y="723.70" font-size="9.0" font-weight="bold" text-anchor="end" >6</text>
<line x1="448.6" y1="758.4" x2="454.8" y2="758.4" stroke="#000" stroke-width="2.0"/>
<text x="446.70" y="761.30" font-size="9.0" font-weight="bold" text-anchor="end" >4</text>
<line x1="448.6" y1="796.1" x2="454.8" y2="796.1" stroke="#000" stroke-width="2.0"/>
<text x="446.70" y="799.00" font-size="9.0" font-weight="bold" text-anchor="end" >2</text>
<line x1="448.6" y1="833.8" x2="454.8" y2="833.8" stroke="#000" stroke-width="2.0"/>
<text x="446.70" y="836.70" font-size="9.0" font-weight="bold" text-anchor="end" >0</text>
<text transform="translate(426.5,739.8) rotate(-90) scale(1.11,1)" font-size="9" font-weight="bold" text-anchor="middle">Viable cell number, x10<tspan font-size="7.2" dy="-3.7">6</tspan></text>
<text transform="translate(562.50,845.90) scale(1,1.1)" font-size="9.7" font-weight="bold" text-anchor="middle" >Day 12</text>
<text x="392.90" y="594.70" font-size="20" font-weight="normal" text-anchor="start" >f</text>
<line x1="472.0" y1="692.5" x2="472.0" y2="694.1" stroke="#000" stroke-width="1.0"/>
<line x1="467.5" y1="692.5" x2="476.5" y2="692.5" stroke="#000" stroke-width="1.0"/>
<rect x="464.5" y="694.5" width="16.0" height="8.0" fill="#0095ff" stroke="#1a1a1a" stroke-width="1"/>
<line x1="464.5" y1="697.5" x2="480.5" y2="697.5" stroke="#1a1a1a" stroke-width="1.0"/>
<circle cx="472" cy="692.5" r="2.0" fill="#000"/>
<circle cx="468" cy="697.9" r="2.0" fill="#000"/>
<circle cx="476" cy="697.9" r="2.0" fill="#000"/>
<circle cx="468" cy="702.1" r="2.0" fill="#000"/>
<rect x="489.5" y="752.5" width="16.0" height="6.0" fill="url(#p1)" stroke="#1a1a1a" stroke-width="1"/>
<line x1="489.5" y1="755.5" x2="505.5" y2="755.5" stroke="#1a1a1a" stroke-width="1.0"/>
<circle cx="493" cy="754" r="2.0" fill="#000"/>
<circle cx="501" cy="753" r="2.0" fill="#000"/>
<circle cx="497" cy="758.5" r="2.0" fill="#000"/>
<circle cx="494" cy="760" r="2.0" fill="#000"/>
<line x1="523.6" y1="711.7" x2="523.6" y2="714.9" stroke="#000" stroke-width="1.0"/>
<line x1="519.1" y1="714.9" x2="528.1" y2="714.9" stroke="#000" stroke-width="1.0"/>
<rect x="515.5" y="694.5" width="16.0" height="17.0" fill="url(#p2)" stroke="#1a1a1a" stroke-width="1"/>
<line x1="515.5" y1="700.5" x2="531.5" y2="700.5" stroke="#1a1a1a" stroke-width="1.0"/>
<circle cx="520.8" cy="695" r="2.0" fill="#000"/>
<circle cx="528.2" cy="693.4" r="2.0" fill="#000"/>
<circle cx="523.4" cy="702.1" r="2.0" fill="#000"/>
<circle cx="523.6" cy="714.9" r="2.0" fill="#000"/>
<rect x="541.5" y="754.5" width="16.0" height="4.0" fill="url(#p3)" stroke="#1a1a1a" stroke-width="1"/>
<line x1="541.5" y1="756.5" x2="557.5" y2="756.5" stroke="#1a1a1a" stroke-width="1.0"/>
<circle cx="545" cy="755" r="2.0" fill="#000"/>
<circle cx="553" cy="756" r="2.0" fill="#000"/>
<circle cx="549" cy="758" r="2.0" fill="#000"/>
<circle cx="545" cy="759" r="2.0" fill="#000"/>
<line x1="575.2" y1="755" x2="575.2" y2="756" stroke="#000" stroke-width="1.0"/>
<line x1="570.7" y1="755" x2="579.7" y2="755" stroke="#000" stroke-width="1.0"/>
<line x1="575.2" y1="771.1" x2="575.2" y2="775.3" stroke="#000" stroke-width="1.0"/>
<line x1="570.7" y1="775.3" x2="579.7" y2="775.3" stroke="#000" stroke-width="1.0"/>
<rect x="567.5" y="756.5" width="16.0" height="15.0" fill="url(#p4)" stroke="#1a1a1a" stroke-width="1"/>
<line x1="567.5" y1="758.5" x2="583.5" y2="758.5" stroke="#1a1a1a" stroke-width="1.0"/>
<circle cx="571" cy="756" r="2.0" fill="#000"/>
<circle cx="579" cy="756" r="2.0" fill="#000"/>
<circle cx="575.2" cy="775.3" r="2.0" fill="#000"/>
<line x1="601.0" y1="682.8" x2="601.0" y2="686" stroke="#000" stroke-width="1.0"/>
<line x1="596.5" y1="682.8" x2="605.5" y2="682.8" stroke="#000" stroke-width="1.0"/>
<rect x="593.5" y="686.5" width="16.0" height="16.0" fill="url(#p5)" stroke="#1a1a1a" stroke-width="1"/>
<line x1="593.5" y1="694.5" x2="609.5" y2="694.5" stroke="#1a1a1a" stroke-width="1.0"/>
<circle cx="601" cy="682.8" r="2.0" fill="#000"/>
<circle cx="601" cy="695.7" r="2.0" fill="#000"/>
<circle cx="605" cy="699.8" r="2.0" fill="#000"/>
<circle cx="597" cy="703.1" r="2.0" fill="#000"/>
<line x1="626.8" y1="681.2" x2="626.8" y2="683.8" stroke="#000" stroke-width="1.0"/>
<line x1="622.3" y1="681.2" x2="631.3" y2="681.2" stroke="#000" stroke-width="1.0"/>
<rect x="618.5" y="683.5" width="16.0" height="13.0" fill="url(#p6)" stroke="#1a1a1a" stroke-width="1"/>
<line x1="618.5" y1="690.5" x2="634.5" y2="690.5" stroke="#1a1a1a" stroke-width="1.0"/>
<circle cx="626.8" cy="681.2" r="2.0" fill="#000"/>
<circle cx="626.8" cy="691.5" r="2.0" fill="#000"/>
<circle cx="622" cy="697.3" r="2.0" fill="#000"/>
<circle cx="631" cy="696" r="2.0" fill="#000"/>
<line x1="652.6" y1="748.5" x2="652.6" y2="750.2" stroke="#000" stroke-width="1.0"/>
<line x1="648.1" y1="748.5" x2="657.1" y2="748.5" stroke="#000" stroke-width="1.0"/>
<rect x="644.5" y="750.5" width="16.0" height="6.0" fill="url(#p7)" stroke="#1a1a1a" stroke-width="1"/>
<line x1="644.5" y1="752.5" x2="660.5" y2="752.5" stroke="#1a1a1a" stroke-width="1.0"/>
<circle cx="652.6" cy="748.5" r="2.0" fill="#000"/>
<circle cx="648" cy="755" r="2.0" fill="#000"/>
<circle cx="656" cy="754" r="2.0" fill="#000"/>
<polyline points="472.0,684.8 472.0,667.4 497.8,667.4 497.8,745.0999999999999" fill="none" stroke="#000" stroke-width="1.6"/>
<text transform="translate(484.90,661.00) scale(1,1.12)" font-size="9.5" font-weight="normal" text-anchor="middle" >P &lt; 0.0001</text>
<polyline points="472.0,648.0 472.0,640.5 549.4,640.5 549.4,747.3" fill="none" stroke="#000" stroke-width="1.6"/>
<text transform="translate(510.70,633.60) scale(1,1.12)" font-size="9.5" font-weight="normal" text-anchor="middle" >P &lt; 0.0001</text>
<polyline points="472.0,633.6 472.0,613.9 575.2,613.9 575.2,749.9" fill="none" stroke="#000" stroke-width="1.6"/>
<text transform="translate(523.60,607.50) scale(1,1.12)" font-size="9.5" font-weight="normal" text-anchor="middle" >P = 0.0011</text>
<polyline points="472.0,606.7 472.0,586.7 652.6,586.7 652.6,742.5" fill="none" stroke="#000" stroke-width="1.6"/>
<text transform="translate(562.30,580.60) scale(1,1.12)" font-size="9.5" font-weight="normal" text-anchor="middle" >P &lt; 0.0001</text>
<line x1="55.9" y1="969.2" x2="55.9" y2="1159.3" stroke="#000" stroke-width="2.0"/>
<line x1="49.699999999999996" y1="1158.3" x2="270.2" y2="1158.3" stroke="#000" stroke-width="2.0"/>
<line x1="49.699999999999996" y1="970.2" x2="55.9" y2="970.2" stroke="#000" stroke-width="2.0"/>
<text x="47.80" y="973.10" font-size="9.0" font-weight="bold" text-anchor="end" >10</text>
<line x1="49.699999999999996" y1="1007.5" x2="55.9" y2="1007.5" stroke="#000" stroke-width="2.0"/>
<text x="47.80" y="1010.40" font-size="9.0" font-weight="bold" text-anchor="end" >8</text>
<line x1="49.699999999999996" y1="1045.3" x2="55.9" y2="1045.3" stroke="#000" stroke-width="2.0"/>
<text x="47.80" y="1048.20" font-size="9.0" font-weight="bold" text-anchor="end" >6</text>
<line x1="49.699999999999996" y1="1082.9" x2="55.9" y2="1082.9" stroke="#000" stroke-width="2.0"/>
<text x="47.80" y="1085.80" font-size="9.0" font-weight="bold" text-anchor="end" >4</text>
<line x1="49.699999999999996" y1="1120.7" x2="55.9" y2="1120.7" stroke="#000" stroke-width="2.0"/>
<text x="47.80" y="1123.60" font-size="9.0" font-weight="bold" text-anchor="end" >2</text>
<line x1="49.699999999999996" y1="1158.3" x2="55.9" y2="1158.3" stroke="#000" stroke-width="2.0"/>
<text x="47.80" y="1161.20" font-size="9.0" font-weight="bold" text-anchor="end" >0</text>
<text transform="translate(26.5,1064.25) rotate(-90) scale(1.11,1)" font-size="9" font-weight="bold" text-anchor="middle">Viable cell number, x10<tspan font-size="7.2" dy="-3.7">6</tspan></text>
<text transform="translate(163.20,1170.40) scale(1,1.1)" font-size="9.7" font-weight="bold" text-anchor="middle" >Day 14</text>
<text x="-0.15" y="891.70" font-size="20" font-weight="normal" text-anchor="start" >g</text>
<line x1="73.1" y1="1017.1" x2="73.1" y2="1019.6" stroke="#000" stroke-width="1.0"/>
<line x1="68.6" y1="1019.6" x2="77.6" y2="1019.6" stroke="#000" stroke-width="1.0"/>
<rect x="65.5" y="998.5" width="16.0" height="19.0" fill="#0095ff" stroke="#1a1a1a" stroke-width="1"/>
<line x1="65.5" y1="1005.5" x2="81.5" y2="1005.5" stroke="#1a1a1a" stroke-width="1.0"/>
<circle cx="73.1" cy="996.1" r="2.0" fill="#000"/>
<circle cx="73.1" cy="1001.4" r="2.0" fill="#000"/>
<circle cx="73.1" cy="1010.1" r="2.0" fill="#000"/>
<circle cx="73.1" cy="1019.7" r="2.0" fill="#000"/>
<rect x="90.5" y="1065.5" width="16.0" height="5.0" fill="url(#p1)" stroke="#1a1a1a" stroke-width="1"/>
<line x1="90.5" y1="1067.5" x2="106.5" y2="1067.5" stroke="#1a1a1a" stroke-width="1.0"/>
<circle cx="95" cy="1066.5" r="2.0" fill="#000"/>
<circle cx="102.7" cy="1064" r="2.0" fill="#000"/>
<circle cx="95" cy="1070.9" r="2.0" fill="#000"/>
<circle cx="99" cy="1068" r="2.0" fill="#000"/>
<line x1="124.69999999999999" y1="1016.3" x2="124.69999999999999" y2="1018.4" stroke="#000" stroke-width="1.0"/>
<line x1="120.19999999999999" y1="1018.4" x2="129.2" y2="1018.4" stroke="#000" stroke-width="1.0"/>
<rect x="116.5" y="1000.5" width="16.0" height="16.0" fill="url(#p2)" stroke="#1a1a1a" stroke-width="1"/>
<line x1="116.5" y1="1006.5" x2="132.5" y2="1006.5" stroke="#1a1a1a" stroke-width="1.0"/>
<circle cx="124.3" cy="998.9" r="2.0" fill="#000"/>
<circle cx="124.3" cy="1003.2" r="2.0" fill="#000"/>
<circle cx="124.3" cy="1010.1" r="2.0" fill="#000"/>
<circle cx="124.3" cy="1018.4" r="2.0" fill="#000"/>
<line x1="150.5" y1="1059.5" x2="150.5" y2="1061.5" stroke="#000" stroke-width="1.0"/>
<line x1="146.0" y1="1059.5" x2="155.0" y2="1059.5" stroke="#000" stroke-width="1.0"/>
<line x1="150.5" y1="1092" x2="150.5" y2="1097.5" stroke="#000" stroke-width="1.0"/>
<line x1="146.0" y1="1097.5" x2="155.0" y2="1097.5" stroke="#000" stroke-width="1.0"/>
<rect x="142.5" y="1061.5" width="16.0" height="31.0" fill="url(#p3)" stroke="#1a1a1a" stroke-width="1"/>
<line x1="142.5" y1="1071.5" x2="158.5" y2="1071.5" stroke="#1a1a1a" stroke-width="1.0"/>
<circle cx="150.4" cy="1060" r="2.0" fill="#000"/>
<circle cx="150.4" cy="1065.3" r="2.0" fill="#000"/>
<circle cx="150.4" cy="1076.5" r="2.0" fill="#000"/>
<circle cx="150.4" cy="1097.5" r="2.0" fill="#000"/>
<line x1="176.3" y1="1072.3" x2="176.3" y2="1074.4" stroke="#000" stroke-width="1.0"/>
<line x1="171.8" y1="1072.3" x2="180.8" y2="1072.3" stroke="#000" stroke-width="1.0"/>
<line x1="176.3" y1="1090.3" x2="176.3" y2="1093.3" stroke="#000" stroke-width="1.0"/>
<line x1="171.8" y1="1093.3" x2="180.8" y2="1093.3" stroke="#000" stroke-width="1.0"/>
<rect x="168.5" y="1074.5" width="16.0" height="16.0" fill="url(#p4)" stroke="#1a1a1a" stroke-width="1"/>
<line x1="168.5" y1="1080.5" x2="184.5" y2="1080.5" stroke="#1a1a1a" stroke-width="1.0"/>
<circle cx="176.2" cy="1072.3" r="2.0" fill="#000"/>
<circle cx="176.2" cy="1078.5" r="2.0" fill="#000"/>
<circle cx="176.2" cy="1082.6" r="2.0" fill="#000"/>
<circle cx="176.2" cy="1093.3" r="2.0" fill="#000"/>
<line x1="202.1" y1="998.9" x2="202.1" y2="1001" stroke="#000" stroke-width="1.0"/>
<line x1="197.6" y1="998.9" x2="206.6" y2="998.9" stroke="#000" stroke-width="1.0"/>
<rect x="194.5" y="1000.5" width="16.0" height="23.0" fill="url(#p5)" stroke="#1a1a1a" stroke-width="1"/>
<line x1="194.5" y1="1013.5" x2="210.5" y2="1013.5" stroke="#1a1a1a" stroke-width="1.0"/>
<circle cx="201.9" cy="998.9" r="2.0" fill="#000"/>
<circle cx="201.9" cy="1005.5" r="2.0" fill="#000"/>
<circle cx="198.1" cy="1024" r="2.0" fill="#000"/>
<circle cx="205.2" cy="1021" r="2.0" fill="#000"/>
<line x1="227.9" y1="989" x2="227.9" y2="993.1" stroke="#000" stroke-width="1.0"/>
<line x1="223.4" y1="989" x2="232.4" y2="989" stroke="#000" stroke-width="1.0"/>
<line x1="227.9" y1="1018.1" x2="227.9" y2="1021.9" stroke="#000" stroke-width="1.0"/>
<line x1="223.4" y1="1021.9" x2="232.4" y2="1021.9" stroke="#000" stroke-width="1.0"/>
<rect x="219.5" y="993.5" width="16.0" height="25.0" fill="url(#p6)" stroke="#1a1a1a" stroke-width="1"/>
<line x1="219.5" y1="1005.5" x2="235.5" y2="1005.5" stroke="#1a1a1a" stroke-width="1.0"/>
<circle cx="227.7" cy="989" r="2.0" fill="#000"/>
<circle cx="227.7" cy="1003" r="2.0" fill="#000"/>
<circle cx="227.7" cy="1007.1" r="2.0" fill="#000"/>
<circle cx="227.7" cy="1021.9" r="2.0" fill="#000"/>
<line x1="253.7" y1="1078.5" x2="253.7" y2="1079.3" stroke="#000" stroke-width="1.0"/>
<line x1="249.2" y1="1078.5" x2="258.2" y2="1078.5" stroke="#000" stroke-width="1.0"/>
<line x1="253.7" y1="1096.3" x2="253.7" y2="1096.9" stroke="#000" stroke-width="1.0"/>
<line x1="249.2" y1="1096.9" x2="258.2" y2="1096.9" stroke="#000" stroke-width="1.0"/>
<rect x="245.5" y="1079.5" width="16.0" height="17.0" fill="url(#p7)" stroke="#1a1a1a" stroke-width="1"/>
<line x1="245.5" y1="1086.5" x2="261.5" y2="1086.5" stroke="#1a1a1a" stroke-width="1.0"/>
<circle cx="249.5" cy="1078.5" r="2.0" fill="#000"/>
<circle cx="256.9" cy="1078.5" r="2.0" fill="#000"/>
<circle cx="253.3" cy="1093.3" r="2.0" fill="#000"/>
<circle cx="253.3" cy="1096.9" r="2.0" fill="#000"/>
<polyline points="73.1,989.8 73.1,974.5 98.89999999999999,974.5 98.89999999999999,1057.7" fill="none" stroke="#000" stroke-width="1.6"/>
<text transform="translate(86.00,968.50) scale(1,1.12)" font-size="9.5" font-weight="normal" text-anchor="middle" >P = 0.0017</text>
<polyline points="73.1,955.5 73.1,947.9 150.5,947.9 150.5,1053.3999999999999" fill="none" stroke="#000" stroke-width="1.6"/>
<text transform="translate(111.80,941.60) scale(1,1.12)" font-size="9.5" font-weight="normal" text-anchor="middle" >P = 0.0050</text>
<polyline points="73.1,941.0 73.1,921.3 176.3,921.3 176.3,1065.6" fill="none" stroke="#000" stroke-width="1.6"/>
<text transform="translate(124.70,914.90) scale(1,1.12)" font-size="9.5" font-weight="normal" text-anchor="middle" >P = 0.0002</text>
<polyline points="73.1,914.1 73.1,894.6 253.7,894.6 253.7,1071.7" fill="none" stroke="#000" stroke-width="1.6"/>
<text transform="translate(163.40,887.80) scale(1,1.12)" font-size="9.5" font-weight="normal" text-anchor="middle" >P = 0.0002</text>
<rect x="298.5" y="974.80" width="13" height="7.4" fill="#0095ff" stroke="#222" stroke-width="1"/>
<text transform="translate(319.20,982.40) scale(1,1.1)" font-size="9.75" font-weight="normal" text-anchor="start" >Control</text>
<rect x="298.5" y="992.00" width="13" height="7.4" fill="url(#p1)" stroke="#222" stroke-width="1"/>
<text transform="translate(319.20,999.60) scale(1,1.1)" font-size="9.75" font-weight="normal" text-anchor="start" >Asc Dex &#946;-Gly</text>
<rect x="298.5" y="1009.20" width="13" height="7.4" fill="url(#p2)" stroke="#222" stroke-width="1"/>
<text transform="translate(319.20,1016.80) scale(1,1.1)" font-size="9.75" font-weight="normal" text-anchor="start" >Asc Dex</text>
<rect x="298.5" y="1026.40" width="13" height="7.4" fill="url(#p3)" stroke="#222" stroke-width="1"/>
<text transform="translate(319.20,1034.00) scale(1,1.1)" font-size="9.75" font-weight="normal" text-anchor="start" >Asc &#946;-Gly</text>
<rect x="298.5" y="1043.60" width="13" height="7.4" fill="url(#p4)" stroke="#222" stroke-width="1"/>
<text transform="translate(319.20,1051.20) scale(1,1.1)" font-size="9.75" font-weight="normal" text-anchor="start" >Dex &#946;-Gly</text>
<rect x="298.5" y="1060.80" width="13" height="7.4" fill="url(#p5)" stroke="#222" stroke-width="1"/>
<text transform="translate(319.20,1068.40) scale(1,1.1)" font-size="9.75" font-weight="normal" text-anchor="start" >Asc</text>
<rect x="298.5" y="1078.00" width="13" height="7.4" fill="url(#p6)" stroke="#222" stroke-width="1"/>
<text transform="translate(319.20,1085.60) scale(1,1.1)" font-size="9.75" font-weight="normal" text-anchor="start" >Dex</text>
<rect x="298.5" y="1095.20" width="13" height="7.4" fill="url(#p7)" stroke="#222" stroke-width="1"/>
<text transform="translate(319.20,1102.80) scale(1,1.1)" font-size="9.75" font-weight="normal" text-anchor="start" >&#946;-Gly</text>
</svg>
</body></html>
